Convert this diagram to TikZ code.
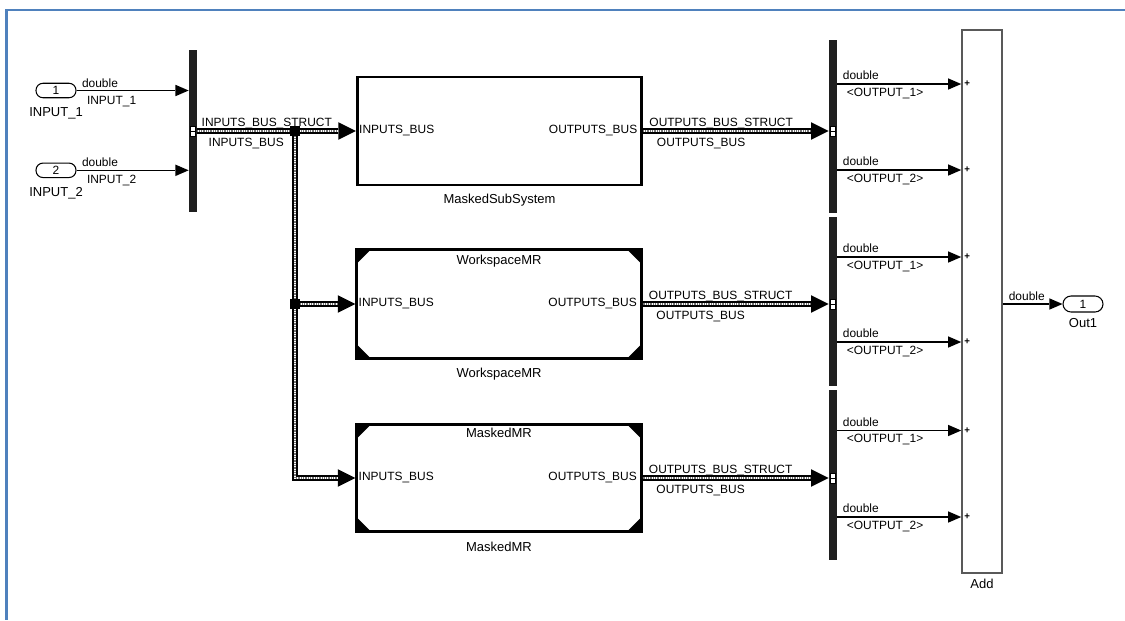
\documentclass[tikz,border=0pt]{standalone}
\usepackage{fontspec}
\setmainfont{Liberation Sans}
\usepackage{tikz}
\usetikzlibrary{arrows.meta, positioning}
\definecolor{framecol}{RGB}{79,129,189}

\begin{document}
\begin{tikzpicture}[x=0.02cm, y=-0.02cm,
    lbl/.style={font=\fontsize{6.8}{8}\selectfont, inner sep=0pt},
    namelbl/.style={font=\fontsize{7.4}{9}\selectfont, inner sep=0pt},
    inport/.style={rectangle, rounded corners=0.14cm, draw=black, line width=0.6pt,
                   minimum width=0.8cm, minimum height=0.29cm, inner sep=0pt, lbl},
    bar/.style={rectangle, fill=black!88, minimum width=0.16cm, inner sep=0pt},
    block/.style={rectangle, draw=black, line width=1.6pt, minimum width=5.69cm, inner sep=0pt},
    mrblock/.style={block, path picture={
        \fill (path picture bounding box.north west) -- ++(0.28cm,0) -- ++(-0.28cm,-0.28cm) -- cycle;
        \fill (path picture bounding box.north east) -- ++(-0.28cm,0) -- ++(0.28cm,-0.28cm) -- cycle;
        \fill (path picture bounding box.south west) -- ++(0.28cm,0) -- ++(-0.28cm,0.28cm) -- cycle;
        \fill (path picture bounding box.south east) -- ++(-0.28cm,0) -- ++(0.28cm,0.28cm) -- cycle;}},
    addblock/.style={rectangle, draw=black!65, line width=0.9pt, minimum width=0.8cm,
                     minimum height=10.86cm, inner sep=0pt},
    brpoint/.style={rectangle, fill=black, minimum size=0.19cm, inner sep=0pt},
    portmark/.style={rectangle, draw=black, line width=0.3pt, fill=white, minimum width=0.11cm,
                     minimum height=0.2cm, inner sep=0pt,
                     path picture={\draw[line width=0.3pt] (path picture bounding box.west) -- (path picture bounding box.east);}},
    plus/.style={font=\fontsize{5.5}{6}\selectfont\bfseries, inner sep=0pt},
    sig/.style={line width=0.6pt, -{Triangle[length=7.5pt, width=6.5pt, line width=0pt]}},
    busedge/.style={draw=black, line width=3.1pt, -{Triangle[length=10pt, width=10pt, line width=0pt]}},
    busfill/.style={draw=white, line width=1.5pt, shorten >=10pt},
    busdots/.style={draw=black!55, line width=0.6pt, dash pattern=on 0.5pt off 0.5pt, shorten >=10pt},
    frame/.style={draw=framecol, line width=1.5pt}
]
\useasboundingbox (0,0) rectangle (1125,620);
\draw [frame] (1125,10) -- (6.7,10) -- (6.7,620);

% inputs and bus creator
\node (in1) [inport] at (56,90.5) {1};
\node (in1name) [namelbl, below=0.18cm of in1] {INPUT\_1};
\node (in2) [inport] at (56,170.3) {2};
\node (in2name) [namelbl, below=0.18cm of in2] {INPUT\_2};
\node (mux) [bar, minimum height=3.26cm] at (193,131) {};

\draw [sig] (in1.east) -- (in1.east -| mux.west)
      node (in1type) [lbl, pos=0, anchor=base west, xshift=0.1cm, yshift=0.07cm] {double}
      node (in1sig) [lbl, pos=0, anchor=base west, xshift=0.2cm, yshift=-0.27cm] {INPUT\_1};
\draw [sig] (in2.east) -- (in2.east -| mux.west)
      node (in2type) [lbl, pos=0, anchor=base west, xshift=0.1cm, yshift=0.07cm] {double}
      node (in2sig) [lbl, pos=0, anchor=base west, xshift=0.2cm, yshift=-0.27cm] {INPUT\_2};

% subsystems
\node (mss) [block, minimum height=2.16cm] at (499.5,131) {};
\node (wmr) [mrblock, minimum height=2.18cm] at (499,304) {};
\node (mmr) [mrblock, minimum height=2.14cm] at (499,478) {};

\node (mssin)  [lbl, anchor=west] at ([xshift=0.06cm]mss.west) {INPUTS\_BUS};
\node (mssout) [lbl, anchor=east] at ([xshift=-0.11cm]mss.east) {OUTPUTS\_BUS};
\node (mssname) [namelbl, below=0.15cm of mss] {MaskedSubSystem};
\node (wmrin)  [lbl, anchor=west] at ([xshift=0.06cm]wmr.west) {INPUTS\_BUS};
\node (wmrout) [lbl, anchor=east] at ([xshift=-0.11cm]wmr.east) {OUTPUTS\_BUS};
\node (wmrtitle) [namelbl, below=0.13cm of wmr.north] {WorkspaceMR};
\node (wmrname) [namelbl, below=0.16cm of wmr] {WorkspaceMR};
\node (mmrin)  [lbl, anchor=west] at ([xshift=0.06cm]mmr.west) {INPUTS\_BUS};
\node (mmrout) [lbl, anchor=east] at ([xshift=-0.11cm]mmr.east) {OUTPUTS\_BUS};
\node (mmrtitle) [namelbl, below=0.1cm of mmr.north] {MaskedMR};
\node (mmrname) [namelbl, below=0.17cm of mmr] {MaskedMR};

% bus selectors
\node (dm1) [bar, minimum height=3.46cm] at (833,126.5) {};
\node (dm2) [bar, minimum height=3.38cm] at (833,301.5) {};
\node (dm3) [bar, minimum height=3.4cm] at (833,475) {};

% buses, drawn in three layers
\coordinate (br1) at (295,131);
\coordinate (br2) at (br1 |- wmr.west);
\foreach \layer in {busedge, busfill, busdots} {
  \draw [\layer] (br1) |- (mmr.west);
  \draw [\layer] (br2) -- (wmr.west);
  \draw [\layer] (mux.east) -- (mss.west);
  \draw [\layer] (mss.east) -- (mss.east -| dm1.west);
  \draw [\layer] (wmr.east) -- (wmr.east -| dm2.west);
  \draw [\layer] (mmr.east) -- (mmr.east -| dm3.west);
}
\node (br1dot) [brpoint] at (br1) {};
\node (br2dot) [brpoint] at (br2) {};
\node (muxport) [portmark] at (mux) {};
\node (dm1port) [portmark] at (mss.east -| dm1) {};
\node (dm2port) [portmark] at (wmr.east -| dm2) {};
\node (dm3port) [portmark] at (mmr.east -| dm3) {};

\node (inbus) [lbl, anchor=base west] at ([xshift=0.08cm, yshift=0.09cm]mux.east) {INPUTS\_BUS\_STRUCT};
\node (inbustype) [lbl, anchor=base west] at ([xshift=0.22cm, yshift=-0.3cm]mux.east) {INPUTS\_BUS};
\node (mssbus) [lbl, anchor=base west] at ([xshift=0.12cm, yshift=0.09cm]mss.east) {OUTPUTS\_BUS\_STRUCT};
\node (mssbustype) [lbl, anchor=base west] at ([xshift=0.27cm, yshift=-0.3cm]mss.east) {OUTPUTS\_BUS};
\node (wmrbus) [lbl, anchor=base west] at ([xshift=0.12cm, yshift=0.09cm]wmr.east) {OUTPUTS\_BUS\_STRUCT};
\node (wmrbustype) [lbl, anchor=base west] at ([xshift=0.27cm, yshift=-0.3cm]wmr.east) {OUTPUTS\_BUS};
\node (mmrbus) [lbl, anchor=base west] at ([xshift=0.12cm, yshift=0.09cm]mmr.east) {OUTPUTS\_BUS\_STRUCT};
\node (mmrbustype) [lbl, anchor=base west] at ([xshift=0.27cm, yshift=-0.3cm]mmr.east) {OUTPUTS\_BUS};

% sum and output
\node (add) [addblock] at (982,301.5) {};
\node (addname) [namelbl, below=0.1cm of add] {Add};
\coordinate (add1) at (add.west |- 0,84);
\coordinate (add2) at (add.west |- 0,170);
\coordinate (add3) at (add.west |- 0,257);
\coordinate (add4) at (add.west |- 0,342);
\coordinate (add5) at (add.west |- 0,430.5);
\coordinate (add6) at (add.west |- 0,517);

\draw [sig] (add1 -| dm1.east) -- (add1)
      node (o1type) [lbl, pos=0, anchor=base west, xshift=0.1cm, yshift=0.09cm] {double}
      node (o1sig) [lbl, pos=0, anchor=base west, xshift=0.18cm, yshift=-0.24cm] {<OUTPUT\_1>};
\draw [sig] (add2 -| dm1.east) -- (add2)
      node (o2type) [lbl, pos=0, anchor=base west, xshift=0.1cm, yshift=0.09cm] {double}
      node (o2sig) [lbl, pos=0, anchor=base west, xshift=0.18cm, yshift=-0.24cm] {<OUTPUT\_2>};
\draw [sig] (add3 -| dm2.east) -- (add3)
      node (o3type) [lbl, pos=0, anchor=base west, xshift=0.1cm, yshift=0.09cm] {double}
      node (o3sig) [lbl, pos=0, anchor=base west, xshift=0.18cm, yshift=-0.24cm] {<OUTPUT\_1>};
\draw [sig] (add4 -| dm2.east) -- (add4)
      node (o4type) [lbl, pos=0, anchor=base west, xshift=0.1cm, yshift=0.09cm] {double}
      node (o4sig) [lbl, pos=0, anchor=base west, xshift=0.18cm, yshift=-0.24cm] {<OUTPUT\_2>};
\draw [sig] (add5 -| dm3.east) -- (add5)
      node (o5type) [lbl, pos=0, anchor=base west, xshift=0.1cm, yshift=0.09cm] {double}
      node (o5sig) [lbl, pos=0, anchor=base west, xshift=0.18cm, yshift=-0.24cm] {<OUTPUT\_1>};
\draw [sig] (add6 -| dm3.east) -- (add6)
      node (o6type) [lbl, pos=0, anchor=base west, xshift=0.1cm, yshift=0.09cm] {double}
      node (o6sig) [lbl, pos=0, anchor=base west, xshift=0.18cm, yshift=-0.24cm] {<OUTPUT\_2>};

\node (plus1) [plus] at ([xshift=0.12cm]add1) {+};
\node (plus2) [plus] at ([xshift=0.12cm]add2) {+};
\node (plus3) [plus] at ([xshift=0.12cm]add3) {+};
\node (plus4) [plus] at ([xshift=0.12cm]add4) {+};
\node (plus5) [plus] at ([xshift=0.12cm]add5) {+};
\node (plus6) [plus] at ([xshift=0.12cm]add6) {+};

\node (out1) [inport, minimum height=0.32cm, rounded corners=0.16cm] at (1083,304) {1};
\node (out1name) [namelbl, below=0.12cm of out1] {Out1};
\draw [sig] (add.east |- out1) -- (out1.west)
      node (outtype) [lbl, pos=0, anchor=base west, xshift=0.11cm, yshift=0.07cm] {double};
\end{tikzpicture}
\end{document}
